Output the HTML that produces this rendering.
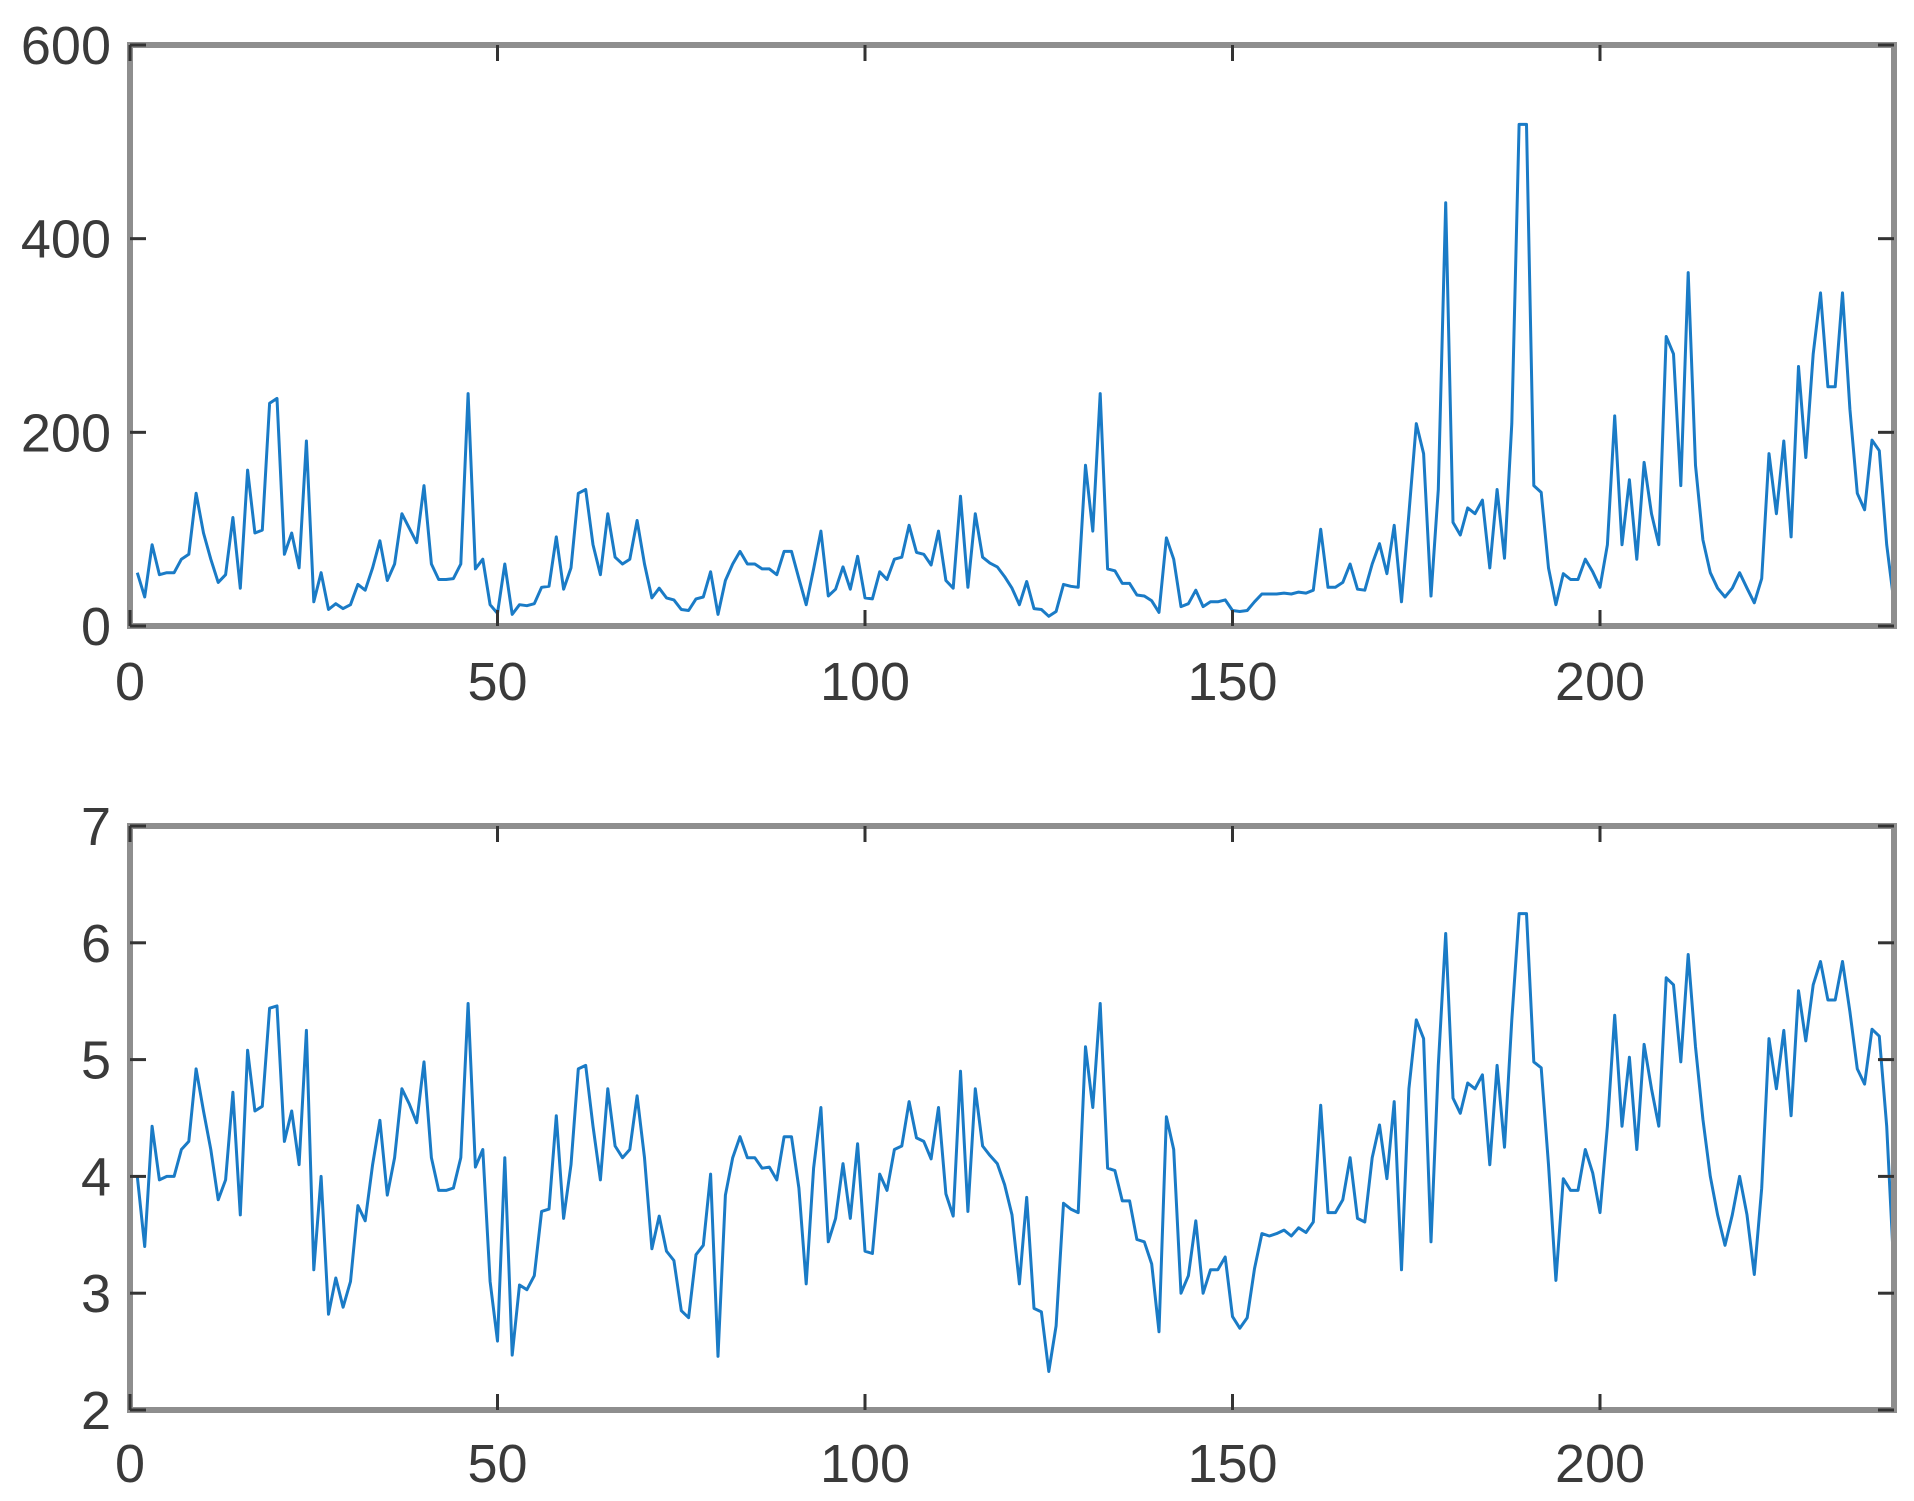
<!DOCTYPE html>
<html><head><meta charset="utf-8"><style>
html,body{margin:0;padding:0;background:#fff;}
svg{display:block;}
text{font-family:"Liberation Sans",Arial,sans-serif;font-size:54px;fill:#3a3a3a;}
</style></head><body>
<svg id="chart" width="1914" height="1501" viewBox="0 0 1914 1501" xmlns="http://www.w3.org/2000/svg"></svg>
<script>
const xTicks = [0, 50, 100, 150, 200];
const yTicksTop = [0, 200, 400, 600];
const yTicksBottom = [2, 3, 4, 5, 6, 7];
const rawValues = [55,30,84,53,55,55,69,74,137,96,69,45,53,112,39,161,96,99,230,235,74,96,60,191,25,55,17,23,18,22,43,37,60,88,47,64,116,101,86,145,64,48,48,49,64,240,59,69,22,13,64,12,22,21,23,40,41,92,38,60,137,141,84,53,116,71,64,69,109,64,29,39,29,27,17,16,28,30,56,12,47,64,77,64,64,59,59,53,77,77,49,22,59,98,31,38,61,38,72,29,28,56,48,69,71,104,76,74,63,98,47,39,134,40,116,71,65,61,51,39,22,46,18,17,10,15,43,41,40,166,98,240,59,57,44,44,32,31,26,14,91,69,20,23,37,20,25,25,27,16,15,16,25,33,33,33,34,33,35,34,37,100,40,40,45,64,38,37,64,85,54,104,25,116,209,178,31,141,437,107,94,122,116,130,60,141,70,209,518,518,145,138,60,22,54,48,48,69,56,40,84,217,84,151,69,169,116,84,299,281,145,365,166,89,55,39,30,39,55,39,24,49,178,116,191,92,268,174,281,344,247,247,344,224,137,120,192,181,84,24];
const logValues = [4.0,3.4,4.43,3.97,4.0,4.0,4.23,4.3,4.92,4.56,4.23,3.8,3.97,4.72,3.67,5.08,4.56,4.6,5.44,5.46,4.3,4.56,4.1,5.25,3.2,4.0,2.82,3.13,2.88,3.1,3.75,3.62,4.1,4.48,3.84,4.16,4.75,4.62,4.46,4.98,4.16,3.88,3.88,3.9,4.16,5.48,4.08,4.23,3.1,2.59,4.16,2.47,3.07,3.03,3.15,3.7,3.72,4.52,3.64,4.1,4.92,4.95,4.43,3.97,4.75,4.26,4.16,4.23,4.69,4.16,3.38,3.66,3.36,3.28,2.85,2.79,3.33,3.41,4.02,2.46,3.84,4.16,4.34,4.16,4.16,4.07,4.08,3.97,4.34,4.34,3.9,3.08,4.07,4.59,3.44,3.64,4.11,3.64,4.28,3.36,3.34,4.02,3.88,4.23,4.26,4.64,4.33,4.3,4.15,4.59,3.85,3.66,4.9,3.7,4.75,4.26,4.18,4.11,3.93,3.67,3.08,3.82,2.87,2.84,2.33,2.72,3.77,3.72,3.69,5.11,4.59,5.48,4.07,4.05,3.79,3.79,3.46,3.44,3.25,2.67,4.51,4.23,3.0,3.15,3.62,3.0,3.2,3.2,3.31,2.8,2.7,2.79,3.21,3.51,3.49,3.51,3.54,3.49,3.56,3.52,3.61,4.61,3.69,3.69,3.8,4.16,3.64,3.61,4.16,4.44,3.98,4.64,3.2,4.75,5.34,5.18,3.44,4.95,6.08,4.67,4.54,4.8,4.75,4.87,4.1,4.95,4.25,5.34,6.25,6.25,4.98,4.93,4.1,3.11,3.98,3.88,3.88,4.23,4.03,3.69,4.43,5.38,4.43,5.02,4.23,5.13,4.75,4.43,5.7,5.64,4.98,5.9,5.11,4.49,4.0,3.67,3.41,3.67,4.0,3.67,3.16,3.9,5.18,4.75,5.25,4.52,5.59,5.16,5.64,5.84,5.51,5.51,5.84,5.41,4.92,4.79,5.26,5.2,4.43,3.18];

const NS = "http://www.w3.org/2000/svg";
const svg = document.getElementById('chart');
const L = 130, R = 1894, XMAX = 240;
function xScale(v){ return L + (v / XMAX) * (R - L); }

function mk(tag, attrs, parent){
  const e = document.createElementNS(NS, tag);
  for (const k in attrs) e.setAttribute(k, attrs[k]);
  (parent || svg).appendChild(e);
  return e;
}

function panel(name, top, bottom, ymin, ymax, yTicks, values, labelBaseline){
  const g = mk('g', {});
  
  
  const yScale = v => bottom - (v - ymin) / (ymax - ymin) * (bottom - top);
  const n = values.length;
  let d = '';
  values.forEach((v, i) => { d += (i ? 'L' : 'M') + xScale(XMAX - (n - 1 - i)).toFixed(1) + ' ' + yScale(v).toFixed(1); });
  const line = mk('path', {d: d, fill: 'none', stroke: '#1a7bc6', 'stroke-width': 3, 'stroke-linejoin': 'round'}, g);
  
  
  const frame = mk('rect', {x: L, y: top, width: R - L, height: bottom - top, fill: 'none', stroke: '#8e8e8e', 'stroke-width': 6}, g);
  
  
  xTicks.forEach(t => {
    const x = xScale(t);
    mk('line', {x1: x, x2: x, y1: bottom, y2: bottom - 16, stroke: '#333', 'stroke-width': 3}, g);
    mk('line', {x1: x, x2: x, y1: top, y2: top + 16, stroke: '#333', 'stroke-width': 3}, g);
    const tx = mk('text', {x: x, y: labelBaseline, 'text-anchor': 'middle'}, g);
    tx.textContent = t;
    
    
  });
  yTicks.forEach(t => {
    const y = yScale(t);
    mk('line', {x1: L, x2: L + 16, y1: y, y2: y, stroke: '#333', 'stroke-width': 3}, g);
    mk('line', {x1: R, x2: R - 16, y1: y, y2: y, stroke: '#333', 'stroke-width': 3}, g);
    const ty = mk('text', {x: 111, y: y + 19, 'text-anchor': 'end'}, g);
    ty.textContent = t;
    
    
  });
}

panel('top-panel', 45, 626, 0, 600, yTicksTop, rawValues, 700);
panel('bottom-panel', 826, 1410, 2, 7, yTicksBottom, logValues, 1482);
</script>
</body></html>
